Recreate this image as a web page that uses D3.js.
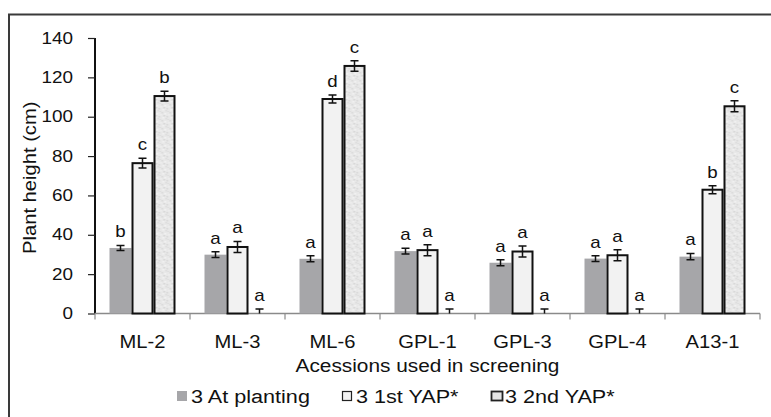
<!DOCTYPE html>
<html>
<head>
<meta charset="utf-8">
<script src="https://cdn.jsdelivr.net/npm/d3@7"></script>
<style>
  body { margin: 0; background: #fff; }
  svg text { font-family: "Liberation Sans", Arial, sans-serif; fill: #111; }
</style>
</head>
<body>
<div id="chart"></div>
<script>
// DATA =========================================
const categories = ["ML-2", "ML-3", "ML-6", "GPL-1", "GPL-3", "GPL-4", "A13-1"];
const seriesNames = ["3 At planting", "3 1st YAP*", "3 2nd YAP*"];

const atPlanting = [33.3, 29.9, 27.8, 31.7, 25.8, 27.9, 28.9];
const firstYAP   = [76.4, 33.8, 109, 32.2, 31.5, 29.6, 62.9];
const secondYAP  = [110.5, 0, 125.8, 0, 0, 0, 105.3];

const errAtPlanting = [1.3, 1.5, 1.5, 1.5, 1.5, 1.5, 1.6];
const errFirstYAP   = [2.5, 2.8, 2.0, 2.8, 2.8, 2.8, 2.0];
const errSecondYAP  = [2.5, 2.3, 2.7, 2.3, 2.3, 2.3, 2.8];

const lettersAtPlanting = ["b", "a", "a", "a", "a", "a", "a"];
const lettersFirstYAP   = ["c", "a", "d", "a", "a", "a", "b"];
const lettersSecondYAP  = ["b", "a", "c", "a", "a", "a", "c"];

const yTicks = [0, 20, 40, 60, 80, 100, 120, 140];

// SETUP ========================================
const width = 771, height = 417;
const svg = d3.select("#chart").append("svg")
  .attr("width", width)
  .attr("height", height);

// outer frame (runs off the right and bottom edges)
svg.append("rect")
  .attr("x", 9).attr("y", 14.5)
  .attr("width", 800).attr("height", 450)
  .attr("fill", "none")
  .attr("stroke", "#3a3a3a")
  .attr("stroke-width", 2);

// speckled texture for the 2nd YAP bars
const defs = svg.append("defs");
const pat = defs.append("pattern")
  .attr("id", "speckle")
  .attr("patternUnits", "userSpaceOnUse")
  .attr("width", 8).attr("height", 8);
pat.append("rect").attr("width", 8).attr("height", 8).attr("fill", "#e8e8e8");
[[0, 0, "#d8d8d8"], [3, 1, "#f4f4f4"], [5, 4, "#d6d6d6"], [1, 5, "#f2f2f2"],
 [6, 7, "#dcdcdc"], [2, 3, "#d4d4d4"], [7, 2, "#f0f0f0"], [4, 6, "#dadada"]]
  .forEach(([px, py, c]) => pat.append("rect")
    .attr("x", px).attr("y", py).attr("width", 1.5).attr("height", 1.5).attr("fill", c));

const fills = ["#a6a6a9", "#f2f2f2", "url(#speckle)"];
const strokes = ["none", "#111", "#111"];

// SCALES =======================================
const x = d3.scaleBand().domain(categories).range([95, 760]).padding(0);
const sub = d3.scaleBand().domain(seriesNames).range([0, 66]).padding(0);
const y = d3.scaleLinear().domain([0, 140]).range([313.5, 38]);

const values = [atPlanting, firstYAP, secondYAP];
const errors = [errAtPlanting, errFirstYAP, errSecondYAP];
const letters = [lettersAtPlanting, lettersFirstYAP, lettersSecondYAP];

const rows = [];
categories.forEach((cat, i) => {
  seriesNames.forEach((s, j) => {
    rows.push({ cat, s, j, v: values[j][i], e: errors[j][i], l: letters[j][i] });
  });
});

// stretch text horizontally (the reference glyphs are wider than Arial)
function stretch(sel, k) {
  sel.each(function () {
    const len = this.getComputedTextLength();
    d3.select(this).attr("textLength", len * k).attr("lengthAdjust", "spacingAndGlyphs");
  });
}

// AXES =========================================
const yAxis = svg.append("g")
  .attr("transform", "translate(95,0)")
  .call(d3.axisLeft(y).tickValues(yTicks).tickSize(7).tickPadding(15));
yAxis.select(".domain").attr("stroke", "#111").attr("stroke-width", 2)
  .attr("d", `M0,${y(0)}V${y(140)}`);
yAxis.selectAll(".tick line").attr("stroke", "#222").attr("stroke-width", 1.2);
yAxis.selectAll(".tick text")
  .style("font-size", "16px")
  .style("font-family", "'Liberation Sans', Arial, sans-serif")
  .attr("fill", "#111")
  .call(stretch, 1.18);

const xAxisG = svg.append("g").attr("transform", `translate(0,${y(0)})`);
xAxisG.append("line")
  .attr("x1", 95).attr("x2", 760)
  .attr("stroke", "#8a8a8a").attr("stroke-width", 1.5);
xAxisG.selectAll("line.tk")
  .data(categories.map(c => x(c)).concat([x.range()[1]]))
  .join("line")
  .attr("class", "tk")
  .attr("x1", d => d).attr("x2", d => d)
  .attr("y1", 0).attr("y2", 6)
  .attr("stroke", "#8a8a8a").attr("stroke-width", 1.2);

svg.append("g").selectAll("text")
  .data(categories)
  .join("text")
  .attr("x", d => x(d) + x.bandwidth() / 2)
  .attr("y", 348)
  .attr("text-anchor", "middle")
  .style("font-size", "18px")
  .text(d => d)
  .call(stretch, 1.12);

// BARS =========================================
const groups = svg.append("g").selectAll("g")
  .data(rows)
  .join("g")
  .attr("transform", d => `translate(${x(d.cat) + (x.bandwidth() - 66) / 2 + sub(d.s)},0)`);

groups.append("rect")
  .attr("x", d => d.j === 0 ? 0 : 1)
  .attr("y", d => y(d.v))
  .attr("width", d => d.j === 0 ? sub.bandwidth() : sub.bandwidth() - 2)
  .attr("height", d => y(0) - y(d.v))
  .attr("fill", d => fills[d.j])
  .attr("stroke", d => d.v > 0 ? strokes[d.j] : "none")
  .attr("stroke-width", 2);

// error bars
const cw = 4;
groups.append("path")
  .attr("d", d => {
    const cx = sub.bandwidth() / 2;
    const top = y(d.v + d.e);
    const bot = y(Math.max(0, d.v - d.e));
    let p = `M${cx},${top}V${bot}M${cx - cw},${top}H${cx + cw}`;
    if (d.v - d.e > 0) p += `M${cx - cw},${bot}H${cx + cw}`;
    return p;
  })
  .attr("stroke", "#111")
  .attr("stroke-width", 1.5)
  .attr("fill", "none");

// significance letters
groups.append("text")
  .attr("x", sub.bandwidth() / 2)
  .attr("y", d => y(d.v + d.e) - 8)
  .attr("text-anchor", "middle")
  .style("font-size", "17px")
  .text(d => d.l)
  .call(stretch, 1.1);

// TITLES =======================================
svg.append("text")
  .attr("transform", `translate(36,${(y(0) + y(140)) / 2 + 2}) rotate(-90)`)
  .attr("text-anchor", "middle")
  .style("font-size", "18px")
  .text("Plant height (cm)")
  .call(stretch, 1.12);

svg.append("text")
  .attr("x", (x.range()[0] + x.range()[1]) / 2)
  .attr("y", 372)
  .attr("text-anchor", "middle")
  .style("font-size", "17.5px")
  .text("Acessions used in screening")
  .call(stretch, 1.19);

// LEGEND =======================================
const legendX = [177, 342, 491];
const legend = svg.append("g").selectAll("g")
  .data(seriesNames)
  .join("g")
  .attr("transform", (d, i) => `translate(${legendX[i]},391)`);

legend.append("rect")
  .attr("x", (d, i) => i === 0 ? 0 : 0.5)
  .attr("y", (d, i) => i === 0 ? 0 : 0.5)
  .attr("width", (d, i) => i === 0 ? 10 : (i === 1 ? 9 : 11))
  .attr("height", (d, i) => i === 0 ? 10 : 9)
  .attr("fill", (d, i) => i === 2 ? "#e4e4e4" : fills[i])
  .attr("stroke", (d, i) => i === 0 ? "none" : "#222")
  .attr("stroke-width", (d, i) => i === 2 ? 1.8 : 1.2);

legend.append("text")
  .attr("x", 14)
  .attr("y", 12)
  .style("font-size", "18px")
  .text(d => d)
  .call(stretch, 1.2);
</script>
</body>
</html>
